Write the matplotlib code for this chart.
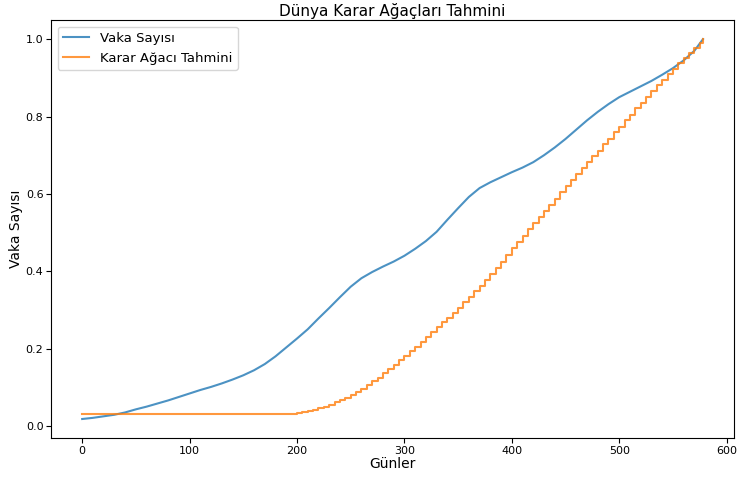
import matplotlib.pyplot as plt

# Vaka sayısı (normalize), her 10 günde bir okunan değerler
gunler = [0, 10, 20, 30, 40, 50, 60, 70, 80, 90, 100, 110, 120, 130, 140, 150,
          160, 170, 180, 190, 200, 210, 220, 230, 240, 250, 260, 270, 280, 290,
          300, 310, 320, 330, 340, 350, 360, 370, 380, 390, 400, 410, 420, 430,
          440, 450, 460, 470, 480, 490, 500, 510, 520, 530, 540, 550, 560, 570, 578]
vaka = [0.018, 0.021, 0.025, 0.029, 0.035, 0.043, 0.050, 0.058, 0.066, 0.075,
        0.084, 0.093, 0.101, 0.110, 0.120, 0.131, 0.144, 0.160, 0.180, 0.203,
        0.226, 0.250, 0.278, 0.305, 0.333, 0.360, 0.382, 0.398, 0.412, 0.425,
        0.440, 0.458, 0.478, 0.502, 0.533, 0.563, 0.592, 0.615, 0.630, 0.643,
        0.656, 0.668, 0.682, 0.700, 0.720, 0.742, 0.766, 0.790, 0.812, 0.832,
        0.850, 0.864, 0.878, 0.892, 0.908, 0.925, 0.945, 0.970, 1.000]

# Karar ağacı tahmini (basamaklı, 5 günlük basamaklar)
tahmin_gun = [0, 195, 200, 205, 210, 215, 220, 225, 230, 235, 240, 245, 250, 255,
              260, 265, 270, 275, 280, 285, 290, 295, 300, 305, 310, 315, 320,
              325, 330, 335, 340, 345, 350, 355, 360, 365, 370, 375, 380, 385,
              390, 395, 400, 405, 410, 415, 420, 425, 430, 435, 440, 445, 450,
              455, 460, 465, 470, 475, 480, 485, 490, 495, 500, 505, 510, 515,
              520, 525, 530, 535, 540, 545, 550, 555, 560, 565, 570, 575, 578]
tahmin = [0.031, 0.031, 0.033, 0.036, 0.039, 0.042, 0.046, 0.050, 0.055, 0.061,
          0.067, 0.073, 0.080, 0.088, 0.096, 0.105, 0.115, 0.125, 0.136, 0.147,
          0.158, 0.170, 0.181, 0.193, 0.205, 0.218, 0.230, 0.243, 0.255, 0.268,
          0.280, 0.293, 0.305, 0.320, 0.334, 0.349, 0.363, 0.378, 0.392, 0.409,
          0.425, 0.442, 0.459, 0.475, 0.492, 0.508, 0.525, 0.540, 0.556, 0.572,
          0.588, 0.604, 0.620, 0.635, 0.651, 0.666, 0.682, 0.697, 0.712, 0.728,
          0.743, 0.759, 0.774, 0.790, 0.805, 0.821, 0.836, 0.851, 0.866, 0.881,
          0.895, 0.910, 0.924, 0.938, 0.952, 0.965, 0.978, 0.990, 1.000]

fig = plt.figure(figsize=(7.41, 4.80), dpi=100)
ax = fig.add_axes([0.069, 0.0875, 0.9216, 0.8705])

ax.plot(gunler, vaka, label='Vaka Sayısı', color='tab:blue', alpha=0.8)
ax.plot(tahmin_gun, tahmin, label='Karar Ağacı Tahmini', color='tab:orange',
        drawstyle='steps-post', alpha=0.8)

ax.set_title('Dünya Karar Ağaçları Tahmini', fontsize=11, pad=3)
ax.set_xlabel('Günler', fontsize=10, labelpad=1)
ax.set_ylabel('Vaka Sayısı', fontsize=10, labelpad=2)
ax.tick_params(labelsize=8, pad=2)
ax.legend(loc='upper left', fontsize=9.5)

fig.savefig('out.png', dpi=100)
